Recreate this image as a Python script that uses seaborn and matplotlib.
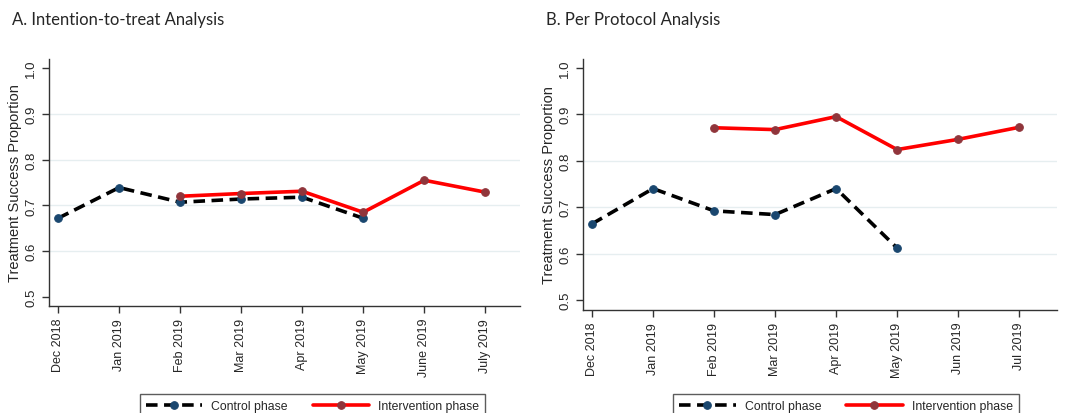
import numpy as np
import pandas as pd
import matplotlib
matplotlib.use("Agg")
import matplotlib.pyplot as plt
import seaborn as sns

# month labels on the x axis (the two panels word June / July differently)
months_itt = ["Dec 2018", "Jan 2019", "Feb 2019", "Mar 2019",
              "Apr 2019", "May 2019", "June 2019", "July 2019"]
months_pp = ["Dec 2018", "Jan 2019", "Feb 2019", "Mar 2019",
             "Apr 2019", "May 2019", "Jun 2019", "Jul 2019"]

# A. intention-to-treat
itt_control_months = ["Dec 2018", "Jan 2019", "Feb 2019", "Mar 2019", "Apr 2019", "May 2019"]
itt_control = [0.672, 0.739, 0.707, 0.714, 0.718, 0.672]
itt_interv_months = ["Feb 2019", "Mar 2019", "Apr 2019", "May 2019", "June 2019", "July 2019"]
itt_interv = [0.720, 0.726, 0.731, 0.685, 0.755, 0.729]

# B. per protocol
pp_control_months = ["Dec 2018", "Jan 2019", "Feb 2019", "Mar 2019", "Apr 2019", "May 2019"]
pp_control = [0.664, 0.740, 0.692, 0.684, 0.740, 0.612]
pp_interv_months = ["Feb 2019", "Mar 2019", "Apr 2019", "May 2019", "Jun 2019", "Jul 2019"]
pp_interv = [0.871, 0.867, 0.895, 0.824, 0.846, 0.872]

yticks = [0.5, 0.6, 0.7, 0.8, 0.9, 1.0]

sns.set_style("white")
plt.rcParams['font.family'] = ['Liberation Sans', 'DejaVu Sans']

CTRL_MARK = "#1a476f"
INT_MARK = "#90353b"
GRID = "#e6eef0"


def make_frame(month_order, ctrl_months, ctrl_vals, int_months, int_vals):
    rows = []
    for m, v in zip(ctrl_months, ctrl_vals):
        rows.append({"pos": month_order.index(m), "value": v, "phase": "Control phase"})
    for m, v in zip(int_months, int_vals):
        rows.append({"pos": month_order.index(m), "value": v, "phase": "Intervention phase"})
    return pd.DataFrame(rows)


def draw_panel(ax, df, month_order, title, ylim, xlim, legend_x):
    fig = ax.figure
    for yv in yticks[1:-1]:
        ax.axhline(yv, color=GRID, lw=1.0, zorder=0)
    ctrl = df[df.phase == "Control phase"]
    intv = df[df.phase == "Intervention phase"]
    sns.lineplot(data=ctrl, x="pos", y="value", ax=ax, color="black", lw=2.6,
                 dashes=False, linestyle=(0, (3.2, 1.8)), marker="o", markersize=5.5,
                 markerfacecolor=CTRL_MARK, markeredgecolor=CTRL_MARK,
                 label="Control phase", zorder=3)
    sns.lineplot(data=intv, x="pos", y="value", ax=ax, color="#ff0000", lw=2.6,
                 marker="o", markersize=5.5, markerfacecolor=INT_MARK,
                 markeredgecolor=INT_MARK, label="Intervention phase", zorder=4)
    ax.set_ylim(*ylim)
    ax.set_xlim(*xlim)
    ax.set_yticks(yticks)
    ax.set_yticklabels([f"{v:.1f}" for v in yticks], rotation=90, va="center", fontsize=9.5)
    ax.set_xticks(range(len(month_order)))
    ax.set_xticklabels(month_order, rotation=90, fontsize=9)
    ax.tick_params(axis="both", length=5, width=1, color="#333333", direction="out",
                   bottom=True, left=True)
    ax.set_xlabel("")
    ax.set_ylabel("Treatment Success Proportion", fontsize=10.5, labelpad=2)
    sns.despine(ax=ax, top=True, right=True)
    for s in ("left", "bottom"):
        ax.spines[s].set_color("#333333")
        ax.spines[s].set_linewidth(1.0)
    handles, labels = ax.get_legend_handles_labels()
    ax.get_legend().remove()
    leg = fig.legend(handles, labels, loc="upper center",
                     bbox_to_anchor=(legend_x / 1078, 1 - 389 / 414),
                     bbox_transform=fig.transFigure, ncol=2,
                     frameon=True, fancybox=False, edgecolor="#333333",
                     fontsize=8.8, handlelength=4.6, columnspacing=2.05,
                     borderpad=0.5, handletextpad=0.75)
    leg.get_frame().set_linewidth(1.0)
    fig.text(ax.get_position().x0 - 0.034, 0.972, title, fontsize=12,
             family=['Lato', 'DejaVu Sans'], va="top", ha="left")


fig = plt.figure(figsize=(10.78, 4.14), dpi=100)
ax1 = fig.add_axes([0.0455, 0.2585, 0.4369, 0.5965])
ax2 = fig.add_axes([0.5408, 0.2488, 0.4397, 0.6062])

df_itt = make_frame(months_itt, itt_control_months, itt_control, itt_interv_months, itt_interv)
df_pp = make_frame(months_pp, pp_control_months, pp_control, pp_interv_months, pp_interv)

draw_panel(ax1, df_itt, months_itt, "A. Intention-to-treat Analysis",
           (0.4804, 1.0197), (-0.148, 7.57), 312.5)
draw_panel(ax2, df_pp, months_pp, "B. Per Protocol Analysis",
           (0.4785, 1.019), (-0.148, 7.62), 846)

fig.savefig("out.png", dpi=100)
